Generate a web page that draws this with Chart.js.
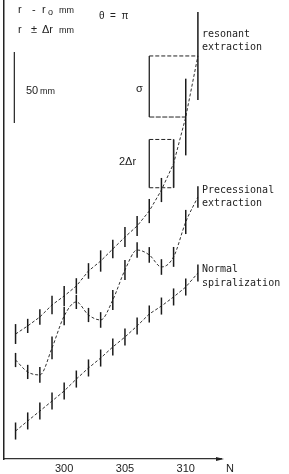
<!DOCTYPE html>
<html>
<head>
<meta charset="utf-8">
<script src="https://cdn.jsdelivr.net/npm/chart.js@4.4.0/dist/chart.umd.min.js"></script>
<style>
  html, body { margin: 0; padding: 0; background: #fff; }
  #wrap { width: 289px; height: 474px; position: relative; }
</style>
</head>
<body>
<div id="wrap"><canvas id="chart"></canvas></div>
<script>
// turn number N
const turns = [296, 297, 298, 299, 300, 301, 302, 303, 304, 305, 306, 307, 308, 309, 310, 311];
const xTicks = [300, 305, 310];

// r - r0 in mm (curves are offset from each other as in the figure)
const resonant      = [88, 93.7, 100, 108.5, 114.8, 121.8, 132.4, 139.4, 147.9, 156.3, 164.1, 174.6, 189.4, 208, 240.8, 283.8];
const resonantErr   = [7, 5, 5.5, 6.5, 7, 5.5, 5.5, 7.5, 6.5, 7, 7, 8.5, 8.5, 17, 27, 31];
const precessional    = [69.7, 61.3, 59.2, 78.2, 100.7, 110.6, 101.4, 97.9, 112, 133.1, 147.2, 143.7, 135.2, 142.3, 166.9, 184.5];
const precessionalErr = [5, 5, 5.5, 8, 6.5, 5, 5, 5.5, 7, 7, 5.5, 5.5, 5.5, 7, 8.5, 7.5];
const normal    = [19.7, 26.8, 33.8, 40.8, 47.9, 56.3, 64.1, 71.1, 78.9, 85.9, 93.7, 102.1, 107.7, 114.1, 121.1, 131];
const normalErr = [6, 6, 6, 6, 6, 6, 6, 6, 6, 6, 6, 6, 6, 6, 6, 6];

function points(values) {
    return turns.map((n, i) => ({ x: n, y: values[i] }));
}

// vertical bars r +- dr at every turn
const errorBars = {
    id: 'errorBars',
    afterDatasetsDraw(chart) {
        const ctx = chart.ctx;
        const xs = chart.scales.x, ys = chart.scales.y;
        ctx.save();
        ctx.strokeStyle = '#1a1a1a';
        ctx.lineWidth = 1.5;
        chart.data.datasets.forEach(ds => {
            ds.data.forEach((p, i) => {
                const e = ds.errors[i];
                const px = xs.getPixelForValue(p.x);
                ctx.beginPath();
                ctx.moveTo(px, ys.getPixelForValue(p.y - e));
                ctx.lineTo(px, ys.getPixelForValue(p.y + e));
                ctx.stroke();
            });
        });
        ctx.restore();
    }
};

// boxes, scale bar and text
const annotations = {
    id: 'annotations',
    afterDraw(chart) {
        const ctx = chart.ctx;
        const xs = chart.scales.x, ys = chart.scales.y;
        const X = v => xs.getPixelForValue(v);
        const Y = v => ys.getPixelForValue(v);
        const last = turns.length - 1;
        ctx.save();
        ctx.strokeStyle = '#222';
        ctx.fillStyle = '#222';

        function line(x1, y1, x2, y2, dash, w) {
            ctx.beginPath();
            ctx.setLineDash(dash || []);
            ctx.lineWidth = w || 1;
            ctx.moveTo(x1, y1);
            ctx.lineTo(x2, y2);
            ctx.stroke();
            ctx.setLineDash([]);
        }

        // sigma box: step between the last two resonant turns
        const sTop = Y(resonant[last]), sBot = Y(resonant[last - 1]);
        line(X(307), sTop, X(307), sBot, null, 1.3);
        line(X(307), sTop, X(311), sTop, [4, 2]);
        line(X(307), sBot, X(310), sBot, [5, 1.5]);

        // 2 dr box around the bar at N = 309
        const i309 = turns.indexOf(309);
        const bTop = Y(resonant[i309] + resonantErr[i309]);
        const bBot = Y(resonant[i309] - resonantErr[i309]);
        line(X(307), bTop, X(307), bBot, null, 1.3);
        line(X(309), bTop, X(309), bBot, null, 1.2);
        line(X(307), bTop, X(309), bTop, [4, 2]);
        line(X(307), bBot, X(309), bBot, [4, 2]);

        // 50 mm scale bar
        line(X(295.9), Y(236.6), X(295.9), Y(286.6), null, 1.2);

        // arrow on N axis
        const ax = chart.chartArea.right, ay = chart.chartArea.bottom;
        ctx.beginPath();
        ctx.moveTo(ax + 3, ay);
        ctx.lineTo(ax - 5, ay - 2);
        ctx.lineTo(ax - 5, ay + 2);
        ctx.closePath();
        ctx.fill();

        ctx.textBaseline = 'alphabetic';
        ctx.font = '11px "Liberation Sans", sans-serif';
        ctx.fillText('N', ax + 5, 472);

        // axis caption
        ctx.font = '11px "Liberation Sans", sans-serif';
        ctx.fillText('r', 18, 13);
        ctx.fillText('-', 32, 13);
        ctx.fillText('r', 42, 13);
        ctx.font = '9px "Liberation Sans", sans-serif';
        ctx.fillText('o', 48, 15);
        ctx.font = '9px "Liberation Sans", sans-serif';
        ctx.fillText('mm', 59, 13);

        ctx.font = '11px "Liberation Sans", sans-serif';
        ctx.fillText('r', 18, 33);
        ctx.fillText('\u00b1', 31, 33);
        ctx.fillText('\u0394r', 42, 33);
        ctx.font = '9px "Liberation Sans", sans-serif';
        ctx.fillText('mm', 59, 33);

        ctx.font = '10px "Liberation Sans", sans-serif';
        ctx.fillText('\u03b8  =  \u03c0', 99, 19);
        ctx.font = '11px "Liberation Sans", sans-serif';
        ctx.fillText('50', 26, 94);
        ctx.font = '9px "Liberation Sans", sans-serif';
        ctx.fillText('mm', 40, 94);
        ctx.font = '11px "Liberation Sans", sans-serif';
        ctx.fillText('\u03c3', 136, 92);
        ctx.fillText('2\u0394r', 119, 165);

        // curve names
        ctx.font = '10px "DejaVu Sans Mono", monospace';
        const lx = X(311) + 4;
        ctx.fillText('resonant', lx, 37);
        ctx.fillText('extraction', lx, 50);
        ctx.fillText('Precessional', lx, 193);
        ctx.fillText('extraction', lx, 206);
        ctx.fillText('Normal', lx, 272);
        ctx.fillText('spiralization', lx, 286);
        ctx.restore();
    }
};

const lineStyle = {
    borderColor: '#333',
    borderWidth: 1,
    borderDash: [3, 2],
    pointRadius: 0,
    fill: false
};

new Chart(document.getElementById('chart'), {
    type: 'line',
    data: {
        datasets: [
            Object.assign({ label: 'resonant extraction', data: points(resonant), errors: resonantErr, tension: 0 }, lineStyle),
            Object.assign({ label: 'Precessional extraction', data: points(precessional), errors: precessionalErr, cubicInterpolationMode: 'monotone' }, lineStyle),
            Object.assign({ label: 'Normal spiralization', data: points(normal), errors: normalErr, tension: 0 }, lineStyle)
        ]
    },
    options: {
        responsive: true,
        maintainAspectRatio: false,
        animation: false,
        layout: { padding: { left: 3, right: 68, top: 0, bottom: 0 } },
        plugins: {
            legend: { display: false },
            tooltip: { enabled: false }
        },
        scales: {
            x: {
                type: 'linear',
                min: 295.05,
                max: 312.9,
                afterBuildTicks: scale => { scale.ticks = xTicks.map(v => ({ value: v })); },
                afterFit: scale => { scale.height = 15; },
                ticks: {
                    color: '#222',
                    padding: 3,
                    maxRotation: 0,
                    font: { family: 'Liberation Sans', size: 11 }
                },
                grid: { display: false, drawTicks: false, tickLength: 0 },
                border: { display: true, color: '#333', width: 1.2 }
            },
            y: {
                min: 0,
                max: 323.2,
                afterFit: scale => { scale.width = 1; },
                ticks: { display: false },
                grid: { display: false },
                border: { display: true, color: '#222', width: 1.5 }
            }
        }
    },
    plugins: [errorBars, annotations]
});
</script>
</body>
</html>
